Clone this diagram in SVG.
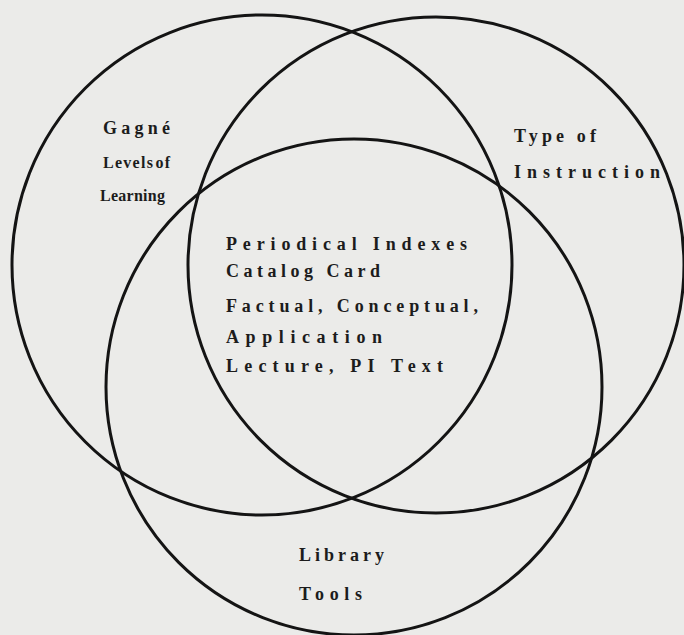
<svg xmlns="http://www.w3.org/2000/svg" width="684" height="635" viewBox="0 0 684 635">
<style>
.c{fill:none;stroke:#141414;stroke-width:3}
.t{font-family:"Liberation Serif","DejaVu Serif",serif;font-weight:bold;font-size:18px;fill:#1c1c1c}
.s{font-size:16px}
</style>
<rect width="684" height="635" fill="#ebebe9"/>
<g id="gagne">
<circle class="c" cx="262" cy="265" r="250"/>
<text class="t" x="103" y="134" textLength="67" lengthAdjust="spacing">Gagné</text>
<text class="t s" x="103" y="168" textLength="67" lengthAdjust="spacing" word-spacing="-4">Levels of</text>
<text class="t s" x="100" y="201" textLength="65" lengthAdjust="spacing">Learning</text>
</g>
<g id="instruction">
<circle class="c" cx="436" cy="265" r="248"/>
<text class="t" x="514" y="142" textLength="82" lengthAdjust="spacing">Type of</text>
<text class="t" x="514" y="178" textLength="146" lengthAdjust="spacing">Instruction</text>
</g>
<g id="library">
<circle class="c" cx="354" cy="387" r="248"/>
<text class="t" x="299" y="561" textLength="85" lengthAdjust="spacing">Library</text>
<text class="t" x="299" y="600" textLength="63" lengthAdjust="spacing">Tools</text>
</g>
<g id="center">
<text class="t" x="226" y="250" textLength="241" lengthAdjust="spacing">Periodical Indexes</text>
<text class="t" x="226" y="277" textLength="154" lengthAdjust="spacing">Catalog Card</text>
<text class="t" x="226" y="312" textLength="252" lengthAdjust="spacing">Factual, Conceptual,</text>
<text class="t" x="226" y="343" textLength="156" lengthAdjust="spacing">Application</text>
<text class="t" x="226" y="372" textLength="217" lengthAdjust="spacing">Lecture, PI Text</text>
</g>
<g id="connectors"/>
</svg>
